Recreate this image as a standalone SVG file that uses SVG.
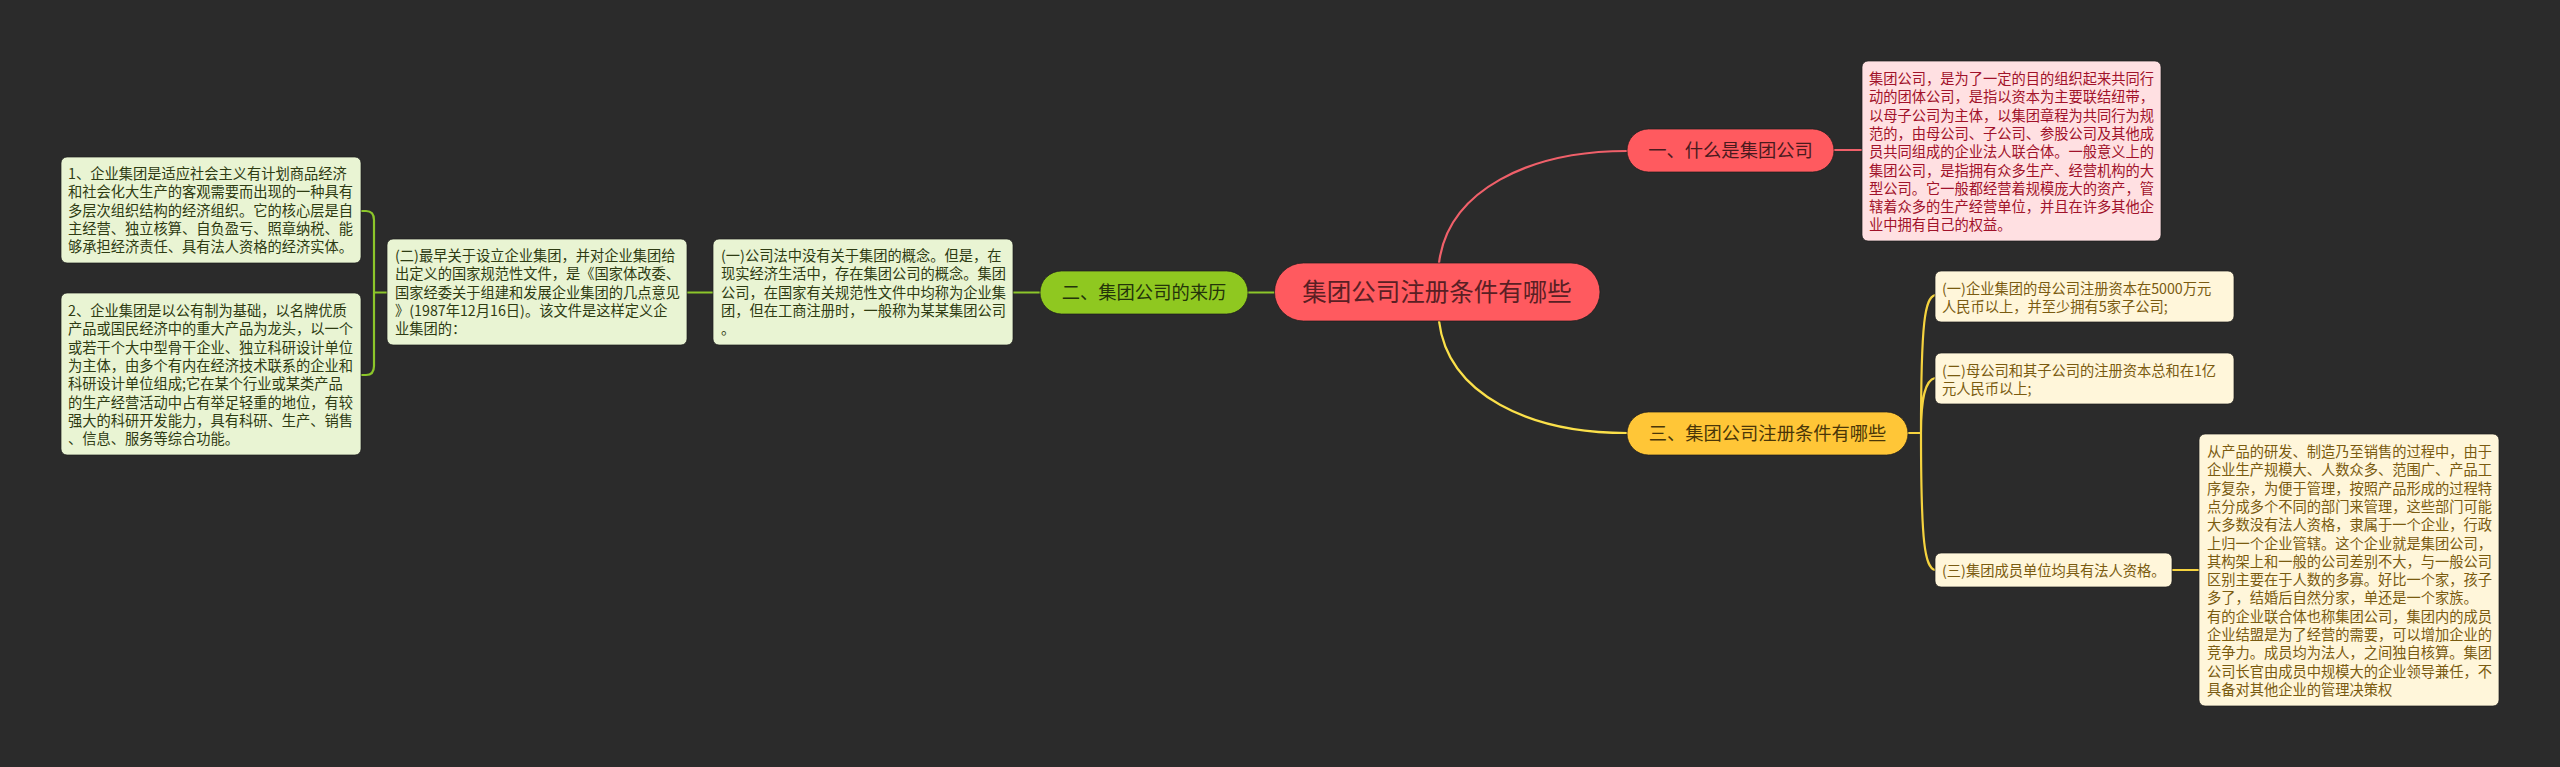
<svg xmlns="http://www.w3.org/2000/svg" width="2560" height="767" viewBox="0 0 2560 767">
<style>
text{font-family:"Noto Sans CJK SC","Noto Sans",sans-serif}
.n{font-size:14.25px}
.p{font-size:18.3px;text-anchor:middle}
rect.s,.g rect,.r rect,.y rect{stroke:#1c1c1c;stroke-opacity:.7;stroke-width:1}
.g rect{fill:#e9f4d3}.g text{fill:#2e3b12}
.r rect{fill:#ffe0e2}.r text{fill:#a1122a}
.y rect{fill:#fff6da}.y text{fill:#7a5b10}
.c{fill:none;stroke-width:2.2;stroke-linecap:round}
</style>
<rect width="2560" height="767" fill="#2b2b2b"/>
<g id="connectors">
<path class="c" stroke="#8cc62a" stroke-width="2.6" d="M1274 292.500H1248M1040 292.500H1013M713 292.500H687M387 292.500H374M361 211H366Q374 211 374 220V366Q374 375 366 375H361"/>
<path class="c" stroke="#f0606a" d="M1439 263C1448 190 1530 151 1627 151M1834 150H1862"/>
<path class="c" stroke="#fbe04a" d="M1439 321C1448 395 1530 433 1627 433"/>
<path class="c" stroke="#f5d33f" d="M1908 433H1921M1935 295C1925 298 1921 320 1921 433C1921 546 1925 567 1935 570M1935 378C1926 380 1921 395 1921 433M2172 570H2199"/>
</g>
<g id="root"><rect class="s" x="1274.500" y="263" width="325.500" height="58" rx="29" fill="#ff5a5f"/><text x="1437" y="301" text-anchor="middle" font-size="24.5" fill="#5a1f24">集团公司注册条件有哪些</text></g>
<g id="b1"><rect class="s" x="1627" y="129" width="207" height="43" rx="21.5" fill="#ff5a5f"/><text class="p" x="1730.500" y="157" fill="#4a1a1e">一、什么是集团公司</text></g>
<g id="b2"><rect class="s" x="1040" y="271" width="208" height="43" rx="21.5" fill="#8fc820"/><text class="p" x="1144" y="299" fill="#24340a">二、集团公司的来历</text></g>
<g id="b3"><rect class="s" x="1627" y="412" width="281" height="43" rx="21.5" fill="#ffc637"/><text class="p" x="1767.500" y="440" fill="#4a3608">三、集团公司注册条件有哪些</text></g>
<g id="pink" class="r"><rect x="1862" y="61" width="299" height="180" rx="6"/>
<text class="n" x="1869"><tspan x="1869" y="84">集团公司，是为了一定的目的组织起来共同行</tspan><tspan x="1869" y="102.3">动的团体公司，是指以资本为主要联结纽带，</tspan><tspan x="1869" y="120.6">以母子公司为主体，以集团章程为共同行为规</tspan><tspan x="1869" y="138.9">范的，由母公司、子公司、参股公司及其他成</tspan><tspan x="1869" y="157.2">员共同组成的企业法人联合体。一般意义上的</tspan><tspan x="1869" y="175.5">集团公司，是指拥有众多生产、经营机构的大</tspan><tspan x="1869" y="193.8">型公司。它一般都经营着规模庞大的资产，管</tspan><tspan x="1869" y="212.1">辖着众多的生产经营单位，并且在许多其他企</tspan><tspan x="1869" y="230.4">业中拥有自己的权益。</tspan></text></g>
<g id="l1" class="g"><rect x="713" y="239" width="300" height="106" rx="6"/>
<text class="n"><tspan x="721" y="261">(一)公司法中没有关于集团的概念。但是，在</tspan><tspan x="721" y="279.3">现实经济生活中，存在集团公司的概念。集团</tspan><tspan x="721" y="297.6">公司，在国家有关规范性文件中均称为企业集</tspan><tspan x="721" y="315.9">团，但在工商注册时，一般称为某某集团公司</tspan><tspan x="721" y="334.2">。</tspan></text></g>
<g id="l2" class="g"><rect x="387" y="239" width="300" height="106" rx="6"/>
<text class="n"><tspan x="395" y="261">(二)最早关于设立企业集团，并对企业集团给</tspan><tspan x="395" y="279.3">出定义的国家规范性文件，是《国家体改委、</tspan><tspan x="395" y="297.6">国家经委关于组建和发展企业集团的几点意见</tspan><tspan x="395" y="315.9">》(1987年12月16日)。该文件是这样定义企</tspan><tspan x="395" y="334.2">业集团的：</tspan></text></g>
<g id="l3" class="g"><rect x="61" y="157" width="300" height="106" rx="6"/>
<text class="n"><tspan x="68" y="179">1、企业集团是适应社会主义有计划商品经济</tspan><tspan x="68" y="197.3">和社会化大生产的客观需要而出现的一种具有</tspan><tspan x="68" y="215.6">多层次组织结构的经济组织。它的核心层是自</tspan><tspan x="68" y="233.9">主经营、独立核算、自负盈亏、照章纳税、能</tspan><tspan x="68" y="252.2">够承担经济责任、具有法人资格的经济实体。</tspan></text></g>
<g id="l4" class="g"><rect x="61" y="293" width="300" height="162" rx="6"/>
<text class="n"><tspan x="68" y="316">2、企业集团是以公有制为基础，以名牌优质</tspan><tspan x="68" y="334.3">产品或国民经济中的重大产品为龙头，以一个</tspan><tspan x="68" y="352.6">或若干个大中型骨干企业、独立科研设计单位</tspan><tspan x="68" y="370.9">为主体，由多个有内在经济技术联系的企业和</tspan><tspan x="68" y="389.2">科研设计单位组成;它在某个行业或某类产品</tspan><tspan x="68" y="407.5">的生产经营活动中占有举足轻重的地位，有较</tspan><tspan x="68" y="425.8">强大的科研开发能力，具有科研、生产、销售</tspan><tspan x="68" y="444.1">、信息、服务等综合功能。</tspan></text></g>
<g id="y1" class="y"><rect x="1935" y="271" width="299" height="51" rx="6"/>
<text class="n"><tspan x="1942" y="294">(一)企业集团的母公司注册资本在5000万元</tspan><tspan x="1942" y="312.3">人民币以上，并至少拥有5家子公司;</tspan></text></g>
<g id="y2" class="y"><rect x="1935" y="353" width="299" height="51" rx="6"/>
<text class="n"><tspan x="1942" y="376">(二)母公司和其子公司的注册资本总和在1亿</tspan><tspan x="1942" y="394.3">元人民币以上;</tspan></text></g>
<g id="y3" class="y"><rect x="1935" y="553" width="237" height="34" rx="6"/>
<text class="n" x="1942" y="576">(三)集团成员单位均具有法人资格。</text></g>
<g id="y4" class="y"><rect x="2199" y="434" width="300" height="272" rx="6"/>
<text class="n"><tspan x="2207" y="457">从产品的研发、制造乃至销售的过程中，由于</tspan><tspan x="2207" y="475.3">企业生产规模大、人数众多、范围广、产品工</tspan><tspan x="2207" y="493.6">序复杂，为便于管理，按照产品形成的过程特</tspan><tspan x="2207" y="511.9">点分成多个不同的部门来管理，这些部门可能</tspan><tspan x="2207" y="530.2">大多数没有法人资格，隶属于一个企业，行政</tspan><tspan x="2207" y="548.5">上归一个企业管辖。这个企业就是集团公司，</tspan><tspan x="2207" y="566.8">其构架上和一般的公司差别不大，与一般公司</tspan><tspan x="2207" y="585.1">区别主要在于人数的多寡。好比一个家，孩子</tspan><tspan x="2207" y="603.4">多了，结婚后自然分家，单还是一个家族。</tspan><tspan x="2207" y="621.7">有的企业联合体也称集团公司，集团内的成员</tspan><tspan x="2207" y="640">企业结盟是为了经营的需要，可以增加企业的</tspan><tspan x="2207" y="658.3">竞争力。成员均为法人，之间独自核算。集团</tspan><tspan x="2207" y="676.6">公司长官由成员中规模大的企业领导兼任，不</tspan><tspan x="2207" y="694.9">具备对其他企业的管理决策权</tspan></text></g>
</svg>
